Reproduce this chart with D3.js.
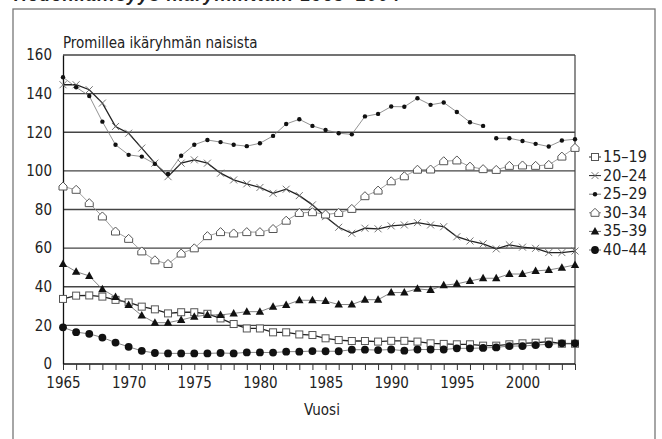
<!DOCTYPE html>
<html>
<head>
<meta charset="utf-8">
<script src="https://cdn.jsdelivr.net/npm/d3@7"></script>
<style>
  body { margin: 0; background: #fff; }
  svg { display: block; }
  text { font-family: "Liberation Sans Narrow", "Arial Narrow", "DejaVu Sans Condensed", sans-serif; font-stretch: condensed; fill: #222; }
</style>
</head>
<body>
<svg width="662" height="439"></svg>
<script>
const svg = d3.select("svg");

// data
const years = d3.range(1965, 2005);
const groups = ["15–19", "20–24", "25–29", "30–34", "35–39", "40–44"];
const v1519 = [33.7, 35.4, 35.5, 34.9, 33.2, 31.9, 29.7, 28.3, 26.2, 26.8, 26.8, 26, 23.6, 20.7, 18.4, 18.4, 16.4, 16.4, 15.3, 15,
  13.3, 12.4, 11.9, 11.9, 11.6, 12, 12, 11.6, 10.7, 10.4, 10.2, 10.2, 9.5, 9.5, 10.2, 10.7, 11, 11.6, 10.5, 10.5];
const v2024 = [144.6, 144.6, 142, 135.1, 123, 119.5, 111.8, 104, 97, 104, 105.7, 104, 98.8, 95.3, 93.3, 91.4, 88.4, 90.5, 87.2, 82.4,
  76.3, 70.8, 67.7, 70.3, 70, 71.5, 72, 73.2, 72, 71.1, 65.9, 63.7, 62.2, 59.6, 61.7, 60.5, 59.9, 57.7, 57.7, 58.5];
const v2529 = [148.5, 143.3, 138.8, 125.5, 113.5, 108.3, 107.4, 103.6, 98.4, 107.8, 113.5, 116, 114.9, 113.5, 112.8, 114.3, 118.1, 124.3, 126.7, 123.3,
  121.2, 119.5, 118.9, 128.2, 129.5, 133.3, 133.2, 137.6, 134.2, 135.4, 130.5, 125.2, 123.3, 116.9, 116.9, 115.5, 114, 112.6, 115.7, 116.4];
const v3034 = [91.9, 90.2, 83.3, 76.4, 68.6, 64.8, 58.3, 53.7, 51.8, 57.2, 59.9, 66.2, 68.3, 67.6, 68.3, 68.3, 69.9, 74.2, 78.2, 78.6,
  77.4, 78.2, 80.3, 86.9, 89.8, 94.6, 97.2, 100.6, 100.7, 105, 105.4, 102.2, 100.9, 100.5, 102.6, 102.8, 102.6, 103.1, 107.4, 111.9];
const v3539 = [51.8, 47.8, 45.6, 38.7, 34.7, 30.6, 25.1, 21.4, 21.4, 22.8, 24.5, 25.4, 25.4, 26.2, 27.1, 27.1, 29.7, 30.6, 33, 33,
  32.6, 30.8, 30.8, 33.3, 33.3, 37, 37, 38.9, 38.3, 40.8, 41.5, 43, 44.4, 44.4, 46.6, 46.6, 48.2, 48.7, 49.9, 51.3];
const v4044 = [19, 16.5, 15.6, 13.7, 11.1, 8.9, 6.8, 5.7, 5.5, 5.5, 5.5, 5.5, 5.7, 5.5, 6, 6, 5.9, 6.4, 6.4, 6.7,
  6.6, 6.6, 7.4, 7.4, 7.2, 7.5, 6.9, 7.5, 7.5, 7.5, 8.1, 8.1, 8.3, 8.6, 9.3, 9.3, 9.8, 10.2, 10.7, 10.7];
const restart2529 = 1998; // no line drawn into this year
const yTicks = [0, 20, 40, 60, 80, 100, 120, 140, 160];
const xTicks = [1965, 1970, 1975, 1980, 1985, 1990, 1995, 2000];

const x = d3.scaleLinear().domain([1965, 2004]).range([63, 575]);
const y = d3.scaleLinear().domain([0, 160]).range([364, 55]);

// title (cut at top edge, as in the original scan)
svg.append("text")
  .attr("x", 14).attr("y", 1)
  .attr("font-size", 18).attr("font-weight", "bold").attr("font-style", "italic")
  .style("font-family", "Liberation Sans, Arial, sans-serif").style("font-stretch", "normal")
  .attr("textLength", 386)
  .text("Hedelmällisyys ikäryhmittäin 1965–2004");

// outer frame
svg.append("rect")
  .attr("x", 13).attr("y", 9).attr("width", 642).attr("height", 450)
  .attr("fill", "none").attr("stroke", "#777").attr("stroke-width", 1.3);

// grid
svg.append("g")
  .selectAll("line")
  .data(yTicks.filter(d => d > 0))
  .join("line")
  .attr("x1", x(1965)).attr("x2", x(2004))
  .attr("y1", d => y(d)).attr("y2", d => y(d))
  .attr("stroke", "#444").attr("stroke-width", 1.3);

// right frame
svg.append("line")
  .attr("x1", x(2004)).attr("x2", x(2004)).attr("y1", y(160)).attr("y2", y(0))
  .attr("stroke", "#444").attr("stroke-width", 1.2);

// y axis
const yAxis = d3.axisLeft(y).tickValues(yTicks).tickSize(0).tickPadding(11);
svg.append("g").attr("transform", `translate(${x(1965)},0)`).call(yAxis)
  .call(g => g.select(".domain").attr("stroke", "#111").attr("stroke-width", 1.3))
  .call(g => g.selectAll("text").attr("font-size", 15).style("font-family", null));

// x axis
const xAxis = d3.axisBottom(x).tickValues(years).tickSize(6).tickPadding(4)
  .tickFormat(d => xTicks.includes(d) ? d : "");
svg.append("g").attr("transform", `translate(0,${y(0)})`).call(xAxis)
  .call(g => g.select(".domain").attr("stroke", "#111").attr("stroke-width", 1.3).attr("d", `M${x(1965)},0H${x(2004)}`))
  .call(g => g.selectAll(".tick line").attr("stroke", "#333"))
  .call(g => g.selectAll("text").attr("font-size", 15).attr("dy", "0.9em").style("font-family", null));

svg.append("text")
  .attr("x", 63).attr("y", 48).attr("font-size", 15)
  .text("Promillea ikäryhmän naisista");

svg.append("text")
  .attr("x", 322).attr("y", 415).attr("font-size", 15).attr("text-anchor", "middle")
  .text("Vuosi");

// markers
function marker(g, type) {
  if (type === "square") {
    g.append("rect").attr("x", -3.5).attr("y", -3.5).attr("width", 7).attr("height", 7)
      .attr("fill", "#fff").attr("stroke", "#555").attr("stroke-width", 1);
  } else if (type === "cross") {
    g.append("path").attr("d", "M-3.5,-3.5L3.5,3.5M-3.5,3.5L3.5,-3.5")
      .attr("stroke", "#666").attr("stroke-width", 0.9).attr("fill", "none");
  } else if (type === "dot") {
    g.append("circle").attr("r", 2.2).attr("fill", "#111");
  } else if (type === "house") {
    g.append("path").attr("d", "M-4,3.5V-0.5L0,-4.5L4,-0.5V3.5Z")
      .attr("fill", "#fff").attr("stroke", "#555").attr("stroke-width", 1);
  } else if (type === "tri") {
    g.append("path").attr("d", "M0,-4.5L4.2,3L-4.2,3Z").attr("fill", "#111");
  } else if (type === "circle") {
    g.append("circle").attr("r", 3.9).attr("fill", "#111");
  }
}

const series = [
  { name: groups[0], values: v1519, type: "square", stroke: "#222", width: 1.3 },
  { name: groups[1], values: v2024, type: "cross", stroke: "#222", width: 1.3 },
  { name: groups[2], values: v2529, type: "dot", stroke: "#777", width: 0.8 },
  { name: groups[3], values: v3034, type: "house", stroke: "#888", width: 0.8 },
  { name: groups[4], values: v3539, type: "tri", stroke: "#666", width: 0.8 },
  { name: groups[5], values: v4044, type: "circle", stroke: "#666", width: 0.8 }
];

const line = d3.line()
  .defined(d => d.v != null)
  .x(d => x(d.year)).y(d => y(d.v));

series.forEach(s => {
  const pts = years.map((yr, i) => ({ year: yr, v: s.values[i] }));
  let parts = [pts];
  if (s.name === "25–29") {
    const k = years.indexOf(restart2529);
    parts = [pts.slice(0, k), pts.slice(k)];
  }
  parts.forEach(p => {
    svg.append("path").datum(p)
      .attr("d", line)
      .attr("fill", "none").attr("stroke", s.stroke).attr("stroke-width", s.width);
  });
  svg.append("g").selectAll("g")
    .data(pts)
    .join("g")
    .attr("transform", d => `translate(${x(d.year)},${y(d.v)})`)
    .each(function () { marker(d3.select(this), s.type); });
});

// legend
const legend = svg.append("g").selectAll("g")
  .data(series)
  .join("g")
  .attr("transform", (d, i) => `translate(595,${162 + i * 18.6})`);
legend.append("line").attr("x1", -6).attr("x2", 6).attr("y1", -5).attr("y2", -5)
  .attr("stroke", d => d.stroke).attr("stroke-width", 1);
legend.append("g").attr("transform", "translate(0,-5)")
  .each(function (d) { marker(d3.select(this), d.type); });
legend.append("text").attr("x", 8).attr("y", 0).attr("font-size", 16)
  .text(d => d.name);
</script>
</body>
</html>
